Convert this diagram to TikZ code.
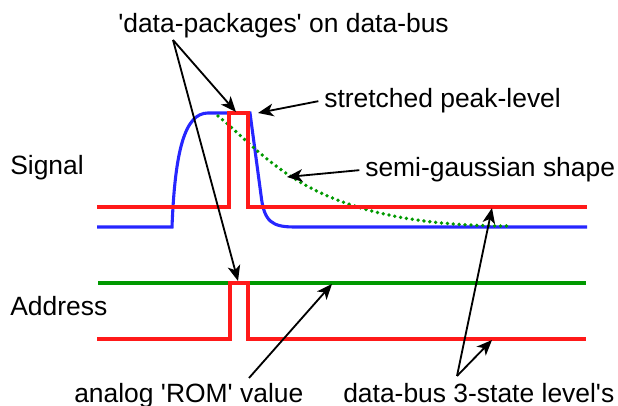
\documentclass[tikz,border=0pt]{standalone}
\usepackage{fontspec}
\setmainfont{Liberation Sans}
\usetikzlibrary{arrows.meta}
\definecolor{busred}{rgb}{1, 0.1, 0.1}
\definecolor{pulseblue}{rgb}{0.15, 0.15, 1}
\definecolor{romgreen}{rgb}{0, 0.6, 0}
\newcommand{\sq}{\textquotesingle}
\tikzset{
  trace/.style={line width=2.2pt, line join=miter},
  pointer/.style={-{Stealth[length=11pt, width=9pt, inset=3pt]}, line width=1.3pt},
  txt/.style={anchor=base west, inner sep=0pt, font=\fontsize{18.8}{22}\selectfont}
}

\begin{document}
\begin{tikzpicture}[x=0.025cm, y=-0.025cm]
\useasboundingbox (0, 0) rectangle (618, 406);
% signal: shaper output, its peak-hold copy and the bus level
\draw [trace, pulseblue] (97, 227) -- (172, 227) .. controls (175, 150) and (185, 113) .. (208, 113)
  -- (250, 113) -- (261, 195) .. controls (264, 222) and (272, 227) .. (295, 227) -- (587, 227);
\draw [romgreen, line width=2.7pt, line cap=round, dash pattern=on 0pt off 4.2pt]
  (218, 116) .. controls (270, 158) and (310, 226) .. (510, 226);
\draw [trace, busred] (97, 207) -- (229, 207) -- (229, 113) -- (248, 113) -- (248, 207) -- (587, 207);
% address: ROM value and bus level
\draw [trace, romgreen] (98, 283) -- (586, 283);
\draw [trace, busred] (97, 339) -- (230, 339) -- (230, 283) -- (248, 283) -- (248, 339) -- (586, 339);

\node [txt] (sig) at (10, 175) {Signal};
\node [txt] (addr) at (10, 315) {Address};
\node [txt] (pkg) at (118, 33) {\sq data-packages\sq{} on data-bus};
\node [txt] (peak) at (324, 108) {stretched peak-level};
\node [txt] (gauss) at (365, 177) {semi-gaussian shape};
\node [txt] (rom) at (74, 402) {analog \sq ROM\sq{} value};
\node [txt] (tri) at (343, 402) {data-bus 3-state level\sq s};

\coordinate (pkgfoot) at (173, 40);
\coordinate (sigpkg) at (236, 112);
\coordinate (addrpkg) at (238, 281);
\coordinate (peaktip) at (258, 113);
\coordinate (gausstip) at (287, 177);
\coordinate (romfoot) at (249, 378);
\coordinate (romtip) at (332, 284);
\coordinate (trifoot) at (457, 376);
\coordinate (sigbus) at (492, 208);
\coordinate (addrbus) at (492, 340);

\draw [pointer] (pkgfoot) -- (sigpkg);
\draw [pointer] (pkgfoot) -- (addrpkg);
\draw [pointer] ([xshift=-4pt]peak.west) -- (peaktip);
\draw [pointer] ([xshift=-4pt]gauss.west) -- (gausstip);
\draw [pointer] (romfoot) -- (romtip);
\draw [pointer] (trifoot) -- (sigbus);
\draw [pointer] (trifoot) -- (addrbus);
\end{tikzpicture}
\end{document}
